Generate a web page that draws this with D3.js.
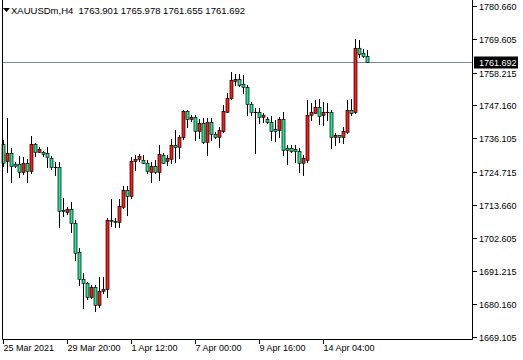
<!DOCTYPE html>
<html><head><meta charset="utf-8">
<script src="https://cdn.jsdelivr.net/npm/d3@7"></script>
<style>
body{margin:0;background:#fff}
svg{display:block}
text{font-family:"Liberation Sans",Arial,sans-serif;font-size:9px;fill:#000}
</style>
</head><body>
<svg id="chart" width="523" height="360"></svg>
<script>
// ---- data (XAUUSDm, H4) ----
const opens  = [1734.15,1728.52,1731.02,1727.51,1727.51,1724.82,1727.65,1725.15,1734.15,1731.56,
                1731.46,1731.02,1729.33,1726.30,1726.30,1711.91,1711.34,1712.15,1707.43,1697.65,
                1688.56,1687.21,1682.49,1686.06,1679.79,1684.51,1685.19,1708.54,1708.20,1707.76,
                1713.02,1718.65,1716.73,1728.32,1729.10,1728.76,1727.85,1724.82,1726.74,1724.82,
                1730.44,1728.42,1729.10,1733.81,1733.24,1736.41,1745.27,1742.48,1743.35,1738.53,
                1741.33,1734.72,1741.67,1737.52,1736.61,1738.63,1745.04,1749.55,1755.48,1756.06,
                1754.37,1753.26,1747.53,1744.83,1744.83,1743.15,1742.48,1741.67,1739.11,1738.87,
                1742.48,1732.70,1732.91,1732.37,1731.89,1727.65,1728.76,1743.92,1744.70,1746.52,
                1743.82,1744.94,1744.94,1736.41,1737.08,1736.61,1738.30,1745.61,1744.83,1766.40,
                1764.72,1763.901];
const highs  = [1735.50,1742.91,1732.70,1728.19,1730.11,1729.67,1729.00,1736.85,1734.59,1733.04,
                1731.89,1733.24,1730.11,1728.19,1728.19,1715.85,1712.82,1714.71,1708.54,1699.00,
                1690.58,1687.75,1686.63,1686.63,1689.23,1689.43,1709.11,1715.52,1709.11,1715.52,
                1720.00,1720.00,1729.67,1730.44,1730.78,1730.34,1728.76,1728.19,1728.76,1733.81,
                1731.02,1730.44,1735.74,1738.87,1737.19,1745.61,1745.61,1743.92,1743.92,1742.48,
                1742.81,1742.81,1742.81,1738.30,1739.98,1747.29,1751.24,1758.52,1757.74,1757.74,
                1757.41,1754.03,1748.41,1746.18,1746.18,1744.50,1743.35,1743.59,1742.24,1743.35,
                1745.04,1733.81,1733.81,1733.81,1732.70,1730.44,1748.98,1747.87,1748.98,1749.22,
                1748.41,1747.87,1745.61,1737.76,1737.19,1739.98,1748.98,1749.22,1769.44,1769.20,
                1766.07,1765.978];
const lows   = [1726.74,1724.82,1721.45,1726.30,1723.13,1723.94,1721.45,1724.28,1730.11,1731.46,
                1730.11,1726.50,1725.63,1723.70,1706.08,1709.89,1710.56,1704.60,1695.06,1686.63,
                1678.78,1681.82,1682.15,1677.97,1679.32,1684.04,1682.49,1706.52,1706.08,1706.08,
                1712.58,1710.22,1715.85,1725.39,1728.52,1727.65,1724.48,1721.45,1724.28,1722.02,
                1727.65,1727.07,1727.65,1728.19,1729.54,1735.84,1739.98,1742.00,1735.50,1736.07,
                1734.39,1730.44,1735.50,1736.07,1733.04,1738.36,1745.00,1749.32,1754.03,1753.70,
                1751.24,1743.92,1743.92,1731.22,1741.13,1741.67,1741.13,1735.50,1735.26,1736.61,
                1730.44,1727.41,1731.56,1728.19,1724.82,1723.70,1728.19,1742.24,1744.50,1740.89,
                1740.55,1742.24,1732.70,1733.81,1734.93,1734.39,1737.76,1743.92,1744.50,1763.57,
                1763.37,1761.655];
const closes = [1727.65,1731.02,1726.84,1726.84,1724.82,1727.65,1725.15,1734.15,1731.56,1732.37,
                1730.88,1729.67,1726.30,1726.25,1711.67,1711.47,1712.25,1707.43,1697.52,1688.56,
                1687.21,1682.49,1686.06,1679.79,1684.51,1685.19,1708.54,1708.10,1707.76,1713.26,
                1718.65,1716.73,1728.52,1729.10,1730.11,1727.85,1724.95,1726.74,1724.82,1730.68,
                1727.85,1729.54,1733.81,1733.24,1736.61,1745.27,1742.48,1743.35,1738.53,1741.33,
                1734.72,1741.67,1737.42,1736.61,1738.87,1745.27,1749.55,1755.72,1756.06,1754.03,
                1753.26,1747.53,1744.83,1744.80,1743.15,1743.92,1741.67,1738.63,1738.63,1742.48,
                1732.13,1732.13,1731.89,1731.89,1727.65,1729.33,1743.92,1744.83,1746.52,1743.69,
                1744.94,1744.90,1736.61,1737.08,1736.61,1738.53,1745.61,1744.70,1766.40,1764.48,
                1763.81,1761.692];

const priceTicks = [1780.660,1769.605,1758.215,1747.160,1736.105,1724.715,1713.660,1702.605,1691.215,1680.160,1669.105];
const timeTickBars = [0,16,32,48,64,80];
const timeTickLabels = ["25 Mar 2021","29 Mar 20:00","1 Apr 12:00","7 Apr 00:00","9 Apr 16:00","14 Apr 04:00"];
const symbolLabel = "XAUUSDm,H4";
const lastOHLC = [1763.901,1765.978,1761.655,1761.692];
const currentPrice = 1761.692;

// ---- drawing ----
const svg = d3.select("#chart");
const plotLeft = 2, plotRight = 472, plotBottom = 339;
const bullColor = "#ff1a1a", bearColor = "#1ee890";

const x = d3.scaleLinear().domain([0, 91]).range([3.5, 3.5 + 4*91]);
const y = d3.scaleLinear().domain([1669.105, 1780.660]).range([337, 6]);
const snap = v => Math.round(v) + 0.5;

const bars = d3.range(opens.length).map(i => ({i, o:opens[i], h:highs[i], l:lows[i], c:closes[i]}));

// current price line
svg.append("line")
  .attr("x1", plotLeft).attr("x2", plotRight)
  .attr("y1", snap(y(currentPrice))).attr("y2", snap(y(currentPrice)))
  .attr("stroke", "#778899").attr("stroke-width", 1);

const g = svg.append("g");
g.selectAll("line.wick").data(bars).join("line")
  .attr("class","wick")
  .attr("x1", d => x(d.i)).attr("x2", d => x(d.i))
  .attr("y1", d => Math.round(y(d.h))).attr("y2", d => Math.round(y(d.l)) + 1)
  .attr("stroke", "#000").attr("stroke-width", 1);

g.selectAll("rect.body").data(bars).join("rect")
  .attr("class","body")
  .attr("x", d => x(d.i) - 1.5)
  .attr("width", 3)
  .attr("y", d => Math.round(y(Math.max(d.o, d.c))) + 0.3)
  .attr("height", d => Math.max(0.4, Math.round(y(Math.min(d.o, d.c))) - Math.round(y(Math.max(d.o, d.c)))))
  .attr("fill", d => d.c > d.o ? bullColor : (d.c < d.o ? bearColor : "#000"))
  .attr("stroke", "#000").attr("stroke-width", 0.7);

// frame
svg.append("path")
  .attr("d", `M${plotLeft+0.5},0 V${plotBottom+0.5} H${plotRight+0.5} V0`)
  .attr("fill", "none").attr("stroke", "#000").attr("stroke-width", 1);

// right price axis
const ya = svg.append("g");
ya.selectAll("line").data(priceTicks).join("line")
  .attr("x1", plotRight + 1).attr("x2", plotRight + 5)
  .attr("y1", d => snap(y(d))).attr("y2", d => snap(y(d)))
  .attr("stroke", "#000");
ya.selectAll("text").data(priceTicks).join("text")
  .attr("x", plotRight + 7).attr("y", d => snap(y(d)))
  .attr("dy", "0.34em")
  .text(d => d.toFixed(3));

// current price tag
const cy = snap(y(currentPrice));
svg.append("rect").attr("x", plotRight + 2).attr("y", cy - 6).attr("width", 44).attr("height", 12).attr("fill", "#000");
svg.append("text").attr("x", plotRight + 7).attr("y", cy).attr("dy", "0.34em")
  .style("fill", "#fff").text(currentPrice.toFixed(3));

// bottom time axis
const xa = svg.append("g");
xa.selectAll("line").data(timeTickBars).join("line")
  .attr("x1", d => x(d)).attr("x2", d => x(d))
  .attr("y1", plotBottom + 1).attr("y2", plotBottom + 5)
  .attr("stroke", "#000");
xa.selectAll("text").data(timeTickBars).join("text")
  .attr("x", d => x(d)).attr("y", 351)
  .text((d, k) => timeTickLabels[k]);

// header
svg.append("path").attr("d", "M3,8 L10,8 L6.5,12 Z").attr("fill", "#000");
svg.append("text").attr("x", 11).attr("y", 14)
  .style("font-size", "9.5px").style("white-space", "pre")
  .text(symbolLabel + "  " + lastOHLC.map(v => v.toFixed(3)).join(" "));
</script>
</body></html>
